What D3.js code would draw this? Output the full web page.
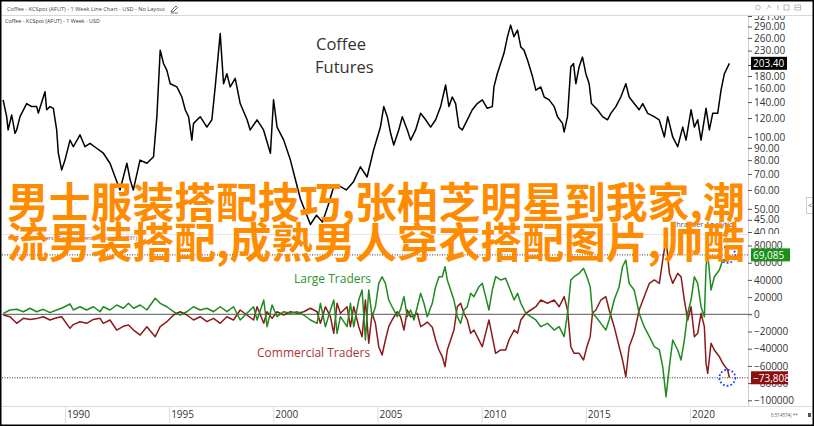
<!DOCTYPE html>
<html><head><meta charset="utf-8">
<script src="https://cdn.jsdelivr.net/npm/d3@7"></script>
<style>html,body{margin:0;padding:0;background:#fff;overflow:hidden}</style>
</head><body>
<svg id="c" width="814" height="426"></svg>
<script>
// ---- DATA ----
const coffeePrice = [[1987.03,143],[1987.2,121.6],[1987.27,107],[1987.44,123.6],[1987.6,103.6],[1987.68,107],[1987.84,121.6],[1988.16,138],[1988.4,134],[1988.64,134],[1988.72,126],[1989.04,154.6],[1989.12,130],[1989.28,134],[1989.44,131.8],[1989.6,107],[1989.68,85.5],[1989.84,72.8],[1990.0,80],[1990.24,97],[1990.4,91],[1990.72,102],[1990.96,91],[1991.2,94],[1991.52,89.7],[1991.84,85.5],[1992.16,77.6],[1992.4,68.2],[1992.64,60],[1992.97,77.6],[1993.13,66],[1993.28,60],[1993.6,80],[1993.93,77.6],[1994.25,82.7],[1994.41,121.6],[1994.57,231],[1994.73,203],[1994.89,190],[1995.05,167],[1995.37,162],[1995.61,147],[1995.77,130],[1995.93,121.6],[1996.09,97],[1996.17,114],[1996.49,121.6],[1996.81,110],[1997.05,118],[1997.21,162],[1997.45,271],[1997.61,167],[1997.77,184],[1997.93,162],[1998.17,176],[1998.41,138],[1998.74,118],[1998.89,107],[1999.22,118],[1999.53,107],[1999.86,85.5],[2000.01,143],[2000.18,110],[2000.5,97],[2000.82,80],[2000.98,70.5],[2001.3,55],[2001.78,43],[2002.07,47],[2002.36,44],[2002.64,52],[2002.9,62],[2003.22,62],[2003.5,60],[2003.85,65],[2004.18,75],[2004.5,68],[2004.81,88],[2005.14,110],[2005.3,134],[2005.47,121.6],[2005.63,103.6],[2005.78,92.6],[2006.02,107],[2006.19,121.6],[2006.43,107],[2006.59,97],[2006.83,107],[2007.07,125.6],[2007.31,118],[2007.55,110],[2007.79,118],[2008.03,134],[2008.27,165],[2008.43,134],[2008.59,147],[2008.75,138],[2008.91,110],[2009.07,107],[2009.31,118],[2009.55,130],[2009.79,138],[2010.03,143],[2010.27,131.8],[2010.51,134],[2010.59,162],[2010.75,184],[2010.91,203],[2011.07,224],[2011.24,263],[2011.39,294],[2011.55,263],[2011.72,280],[2011.88,238],[2012.03,231],[2012.2,210],[2012.44,179],[2012.6,157],[2012.84,162],[2013.0,147],[2013.24,143],[2013.48,134],[2013.64,121.6],[2013.88,114],[2013.96,105],[2014.12,121.6],[2014.28,197],[2014.41,203],[2014.52,167],[2014.68,197],[2014.84,216],[2015.0,184],[2015.16,167],[2015.27,138],[2015.56,130],[2015.8,121.6],[2016.04,118],[2016.2,125.6],[2016.44,134],[2016.68,147],[2016.92,167],[2017.08,147],[2017.32,138],[2017.56,130],[2017.73,138],[2017.97,125.6],[2018.28,121.6],[2018.52,118],[2018.77,100],[2018.93,121.6],[2019.17,100],[2019.41,91],[2019.65,110],[2019.81,97],[2020.05,130],[2020.21,110],[2020.37,118],[2020.53,97],[2020.77,131.8],[2020.93,107],[2021.09,125.6],[2021.33,125.6],[2021.49,157],[2021.65,184],[2021.89,203.4]];

const cotYears = [1987.04,1987.36,1987.68,1988.0,1988.32,1988.64,1988.96,1989.28,1989.6,1989.84,1990.24,1990.4,1990.72,1991.04,1991.36,1991.68,1991.84,1992.16,1992.48,1992.8,1993.05,1993.29,1993.61,1993.93,1994.33,1994.57,1994.89,1995.21,1995.53,1995.85,1996.17,1996.49,1996.81,1997.13,1997.45,1997.77,1998.09,1998.41,1998.73,1999.05,1999.22,1999.54,1999.7,1999.94,2000.18,2000.5,2000.82,2001.14,2001.46,2001.78,2002.1,2002.26,2002.5,2002.74,2002.9,2003.06,2003.22,2003.54,2003.7,2003.86,2004.1,2004.26,2004.42,2004.58,2004.74,2004.9,2005.06,2005.22,2005.38,2005.54,2005.7,2005.95,
2006.11,
2006.27,2006.43,2006.59,2006.75,2006.91,2007.07,2007.23,2007.39,2007.63,2007.79,2007.95,2008.11,2008.24,2008.35,2008.51,2008.67,2008.83,2008.99,2009.15,2009.31,2009.47,2009.63,2009.87,2010.03,2010.19,2010.35,2010.51,2010.67,2010.91,2011.15,2011.31,2011.56,2011.72,2011.88,2012.12,2012.36,2012.6,2012.84,2013.16,2013.48,2013.72,2013.96,2014.12,2014.28,2014.44,2014.68,2014.89,2015.05,2015.21,2015.32,2015.48,2015.72,2015.96,2016.12,2016.36,2016.6,2016.76,2016.92,2017.08,2017.32,2017.56,2017.8,2018.05,2018.29,2018.53,2018.69,2018.85,2019.01,2019.17,2019.41,2019.57,2019.73,2019.89,2020.05,2020.21,2020.37,2020.53,2020.69,2020.77,2020.85,2021.01,2021.17,2021.41,2021.57,2021.81,2021.89];

const largeTraders = [1000,5000,5800,3000,7000,3000,5800,1900,5000,7000,
12000,5000,8800,5000,8800,3000,8800,5000,10800,7000,
12800,7000,10800,5000,18600,12800,8800,3000,-800,3000,
8800,5000,7000,3000,8800,3000,8800,-6600,1200,8800,
-6600,16600,-14400,10800,-2800,3000,1200,3000,-800,-6600,
-10500,12800,-14400,5000,16600,-22100,-2800,-14400,12800,-14400,
16600,28300,-29900,28300,-2800,8800,36000,43700,36000,16600,
8800,-2800,
6000,
20500,-2800,5000,-6600,8800,24400,12800,-2800,12800,32100,
43700,43700,55300,39900,28300,16600,-2800,-10500,5000,8800,
24400,20500,32100,36000,20500,5000,28300,43700,39900,41900,
32100,16600,24400,12800,1200,-2800,-6600,-14400,-10500,-18300,
-14400,-26000,1200,39900,43700,47600,53500,43700,32100,1200,
-2800,-10500,-18300,-6600,16600,32100,55300,63100,36000,28300,
1200,-14400,-26000,-37700,-41500,-60900,-95800,-60900,-29900,-41500,
-53100,-29900,1200,16600,43700,36000,8800,-2800,55300,70900,
28300,43700,51500,63100,63100,69085];

const commercialTraders = [-800,-2800,-10500,-4700,-6000,-5000,-2800,-6600,-4000,-2800,
-16300,-12000,-8600,-10500,-6000,-4700,-10500,-6600,-18300,-14000,
-12400,-18300,-24100,-14400,-26000,-14400,-8600,-800,3000,-800,
-6600,-2800,-8600,-4700,-10500,-2800,-6600,5000,-800,-6600,
8800,-10500,3000,-4700,3000,-800,3000,1200,3000,7000,
3000,-10500,8800,-2800,-22100,12800,1200,8800,-14400,8800,
-14400,-26000,16600,-33700,1200,-10500,-37700,-47300,-29900,-14400,
-6600,3000,
-3000,
-18300,5000,-3000,-2000,1200,-14400,-12000,-9000,-15000,-29900,
-41500,-49300,-60900,-41500,-29900,-18300,8800,12800,1200,-6600,
-22100,-18300,-30000,-37700,-22100,-6600,-26000,-45400,-41500,-41500,
-29900,-18300,-22100,-6600,1200,5000,8800,16600,12800,16600,
8800,20500,5000,-37700,-45400,-45400,-53100,-37700,-26000,1200,
5000,16600,20500,5000,-14400,-37700,-53100,-72600,-37700,-22100,
5000,20500,36000,39900,36000,63100,88000,47600,36000,47600,
43700,16600,-6600,8800,-26000,-22100,1200,-14400,-57000,-68600,
-33700,-41500,-49300,-57000,-64800,-73808];

const yearTicks = [1990,1995,2000,2005,2010,2015,2020];
const priceTicks = [40,45,50,60,70,80,90,100,120,140,160,180,200,230,260,290,321];
const cotTicks = [-100000,-80000,-60000,-40000,-20000,0,20000,40000,60000,80000];
const lastPrice = 203.40, lastLarge = 69085, lastCommercial = -73808;
const headerTitle = "Coffee - KCSpot (AFUT) - 1 Week Line Chart - USD - No Layout";
const subTitle = "Coffee - KCSpot (AFUT) - 1 Week - USD";
const cotTitle = "COT - Net Traders - Commitments Report (083731)";
const overlayLines = ["男士服装搭配技巧,张柏芝明星到我家,潮","流男装搭配,成熟男人穿衣搭配图片,帅酷"];

// ---- DRAW ----
const svg = d3.select('#c');
const F = "'Open Sans', 'Noto Sans', sans-serif";
const x = d3.scaleLinear().domain([1990, 2020]).range([65, 690]);
const yP = d3.scaleLog().domain([40, 321]).range([232, 16]);
const yC = d3.scaleLinear().domain([-100000, 80000]).range([400.3, 245.5]);
const AX = 748;

svg.append('rect').attr('width',814).attr('height',426).attr('fill','#fff');

// header
svg.append('text').attr('x',7).attr('y',10.5).attr('font-family',F).attr('font-size',5.6).attr('fill','#444').text(headerTitle);
const pen = svg.append('g').attr('transform','translate(171,6)');
pen.append('path').attr('d','M0,6 L1,4 L5,0 L6.5,1.5 L2.5,5.5 Z').attr('fill','none').attr('stroke','#444').attr('stroke-width',0.8);
pen.append('line').attr('x1',0).attr('x2',7).attr('y1',7).attr('y2',7).attr('stroke','#444').attr('stroke-width',0.7);
svg.append('line').attr('x1',2).attr('x2',814).attr('y1',15.5).attr('y2',15.5).attr('stroke','#d8d8d8');
svg.append('text').attr('x',5).attr('y',23).attr('font-family',F).attr('font-size',5.4).attr('fill','#333').text(subTitle);

// top right icons
const ic = svg.append('g').attr('stroke','#aaa').attr('fill','none').attr('stroke-width',0.8);
ic.append('circle').attr('cx',758).attr('cy',7.5).attr('r',2.3);
ic.append('path').attr('d','M766,9.5 L770,5.5 M768,5 L771,8');
ic.append('line').attr('x1',778).attr('x2',778).attr('y1',5).attr('y2',10);
ic.append('rect').attr('x',784).attr('y',5).attr('width',5).attr('height',5);
ic.append('rect').attr('x',795).attr('y',5).attr('width',5.5).attr('height',5);
ic.append('line').attr('x1',795).attr('x2',800.5).attr('y1',7.5).attr('y2',7.5);

// axis vertical line
svg.append('line').attr('x1',AX+0.5).attr('x2',AX+0.5).attr('y1',16).attr('y2',406).attr('stroke','#d0d0d0');
// panel separator
svg.append('line').attr('x1',2).attr('x2',AX).attr('y1',234.5).attr('y2',234.5).attr('stroke','#e6e6e6');

// clip paths
const defs = svg.append('defs');
defs.append('clipPath').attr('id','clipTop').append('rect').attr('x',0).attr('y',16).attr('width',814).attr('height',218);
defs.append('clipPath').attr('id','clipBot').append('rect').attr('x',0).attr('y',235).attr('width',814).attr('height',171);

function styleAxis(g){
  g.select('.domain').remove();
  g.selectAll('.tick line').attr('stroke','#555');
  g.selectAll('.tick text').attr('font-family',F).attr('font-size',10).attr('fill','#333');
}

// price axis
const gP = svg.append('g').attr('clip-path','url(#clipTop)').append('g').attr('transform',`translate(${AX},0)`)
  .call(d3.axisRight(yP).tickValues(priceTicks).tickFormat(d3.format('.2f')).tickSize(4).tickPadding(2));
styleAxis(gP);

// cot axis
const gC = svg.append('g').attr('transform',`translate(${AX},0)`)
  .call(d3.axisRight(yC).tickValues(cotTicks).tickFormat(d3.format('d')).tickSize(4).tickPadding(2));
styleAxis(gC);

// price line
const lineP = d3.line().x(d=>x(d[0])).y(d=>yP(d[1]));
svg.append('path').datum(coffeePrice).attr('clip-path','url(#clipTop)').attr('d',lineP)
  .attr('fill','none').attr('stroke','#000').attr('stroke-width',1.5).attr('stroke-linejoin','round');

// Coffee Futures label
svg.append('text').attr('x',316).attr('y',50).attr('font-family',F).attr('font-size',16.5).attr('fill','#333').text('Coffee');
svg.append('text').attr('x',315).attr('y',73).attr('font-family',F).attr('font-size',16.5).attr('fill','#333').text('Futures');

// lower panel
svg.append('text').attr('x',8).attr('y',239.5).attr('font-family',F).attr('font-size',5.5).attr('fill','#b03030').text(cotTitle);
svg.append('text').attr('x',672).attr('y',227).attr('font-family',F).attr('font-size',7.5).attr('fill','#555').text('Thrasher Analytics');

// zero line
svg.append('line').attr('x1',2).attr('x2',AX+4).attr('y1',yC(0)).attr('y2',yC(0)).attr('stroke','#777').attr('stroke-width',1.3);
// dotted last-value lines
[lastLarge,lastCommercial].forEach(v=>{
  svg.append('line').attr('x1',2).attr('x2',AX).attr('y1',yC(v)).attr('y2',yC(v))
    .attr('stroke','#333').attr('stroke-width',1).attr('stroke-dasharray','1,1.5');
});

const cotLine = (vals)=>d3.line().x((d,i)=>x(cotYears[i])).y(d=>yC(d))(vals);
svg.append('path').attr('clip-path','url(#clipBot)').attr('d',cotLine(commercialTraders))
  .attr('fill','none').attr('stroke','#8b1a1a').attr('stroke-width',1.5).attr('stroke-linejoin','round');
svg.append('path').attr('clip-path','url(#clipBot)').attr('d',cotLine(largeTraders))
  .attr('fill','none').attr('stroke','#1f8a1f').attr('stroke-width',1.5).attr('stroke-linejoin','round');

svg.append('text').attr('x',294).attr('y',283).attr('font-family',F).attr('font-size',12).attr('fill','#2e922e').text('Large Traders');
svg.append('text').attr('x',257).attr('y',357).attr('font-family',F).attr('font-size',12).attr('fill','#a83434').text('Commercial Traders');

// blue dotted circles at last values
const lastYear = cotYears[cotYears.length-1];
[lastLarge,lastCommercial].forEach(v=>{
  svg.append('circle').attr('cx',x(lastYear)-2).attr('cy',yC(v)).attr('r',8)
    .attr('fill','none').attr('stroke','#1f3cff').attr('stroke-width',1.8).attr('stroke-dasharray','1.8,2');
});

// value boxes
function valBox(yv, txt, bg, w){
  svg.append('rect').attr('x',AX+3).attr('y',yv-6.5).attr('width',w).attr('height',13).attr('fill',bg);
  svg.append('text').attr('x',AX+5).attr('y',yv+4).attr('font-family',F).attr('font-size',10).attr('fill','#fff').text(txt);
}
valBox(yP(lastPrice), d3.format('.2f')(lastPrice), '#000', 36);
valBox(yC(lastLarge), d3.format(',')(lastLarge), '#1a8f1a', 39);
valBox(yC(lastCommercial), d3.format(',')(lastCommercial), '#8b0f0f', 37);

// x axis
svg.append('line').attr('x1',2).attr('x2',814).attr('y1',406.5).attr('y2',406.5).attr('stroke','#ddd');
const gX = svg.append('g');
yearTicks.forEach(yr=>{
  gX.append('line').attr('x1',x(yr)+0.5).attr('x2',x(yr)+0.5).attr('y1',407).attr('y2',423).attr('stroke','#ddd');
  gX.append('text').attr('x',x(yr)+2).attr('y',418).attr('font-family',F).attr('font-size',10).attr('fill','#333').text(yr);
});
svg.append('text').attr('x',771).attr('y',417).attr('font-family',F).attr('font-size',4.5).attr('fill','#555').text('0.514574( ** ');
svg.append('rect').attr('x',808).attr('y',413).attr('width',3).attr('height',4).attr('fill','#555');

// side button
svg.append('rect').attr('x',806.5).attr('y',197.5).attr('width',7).attr('height',16).attr('fill','#fff').attr('stroke','#ccc');
svg.append('text').attr('x',808).attr('y',208).attr('font-family',F).attr('font-size',7).attr('fill','#555').text('<');

// overlay text
overlayLines.forEach((t,i)=>{
  svg.append('text').attr('x',7).attr('y',218+i*40).attr('font-family',"'Noto Sans CJK SC', sans-serif")
    .attr('font-weight','bold').attr('font-size',41.8).attr('fill','#ff8c00').text(t);
});

// border
svg.append('rect').attr('x',0.75).attr('y',0.75).attr('width',812.5).attr('height',424.5).attr('fill','none').attr('stroke','#000').attr('stroke-width',1.5);
</script>
</body></html>
